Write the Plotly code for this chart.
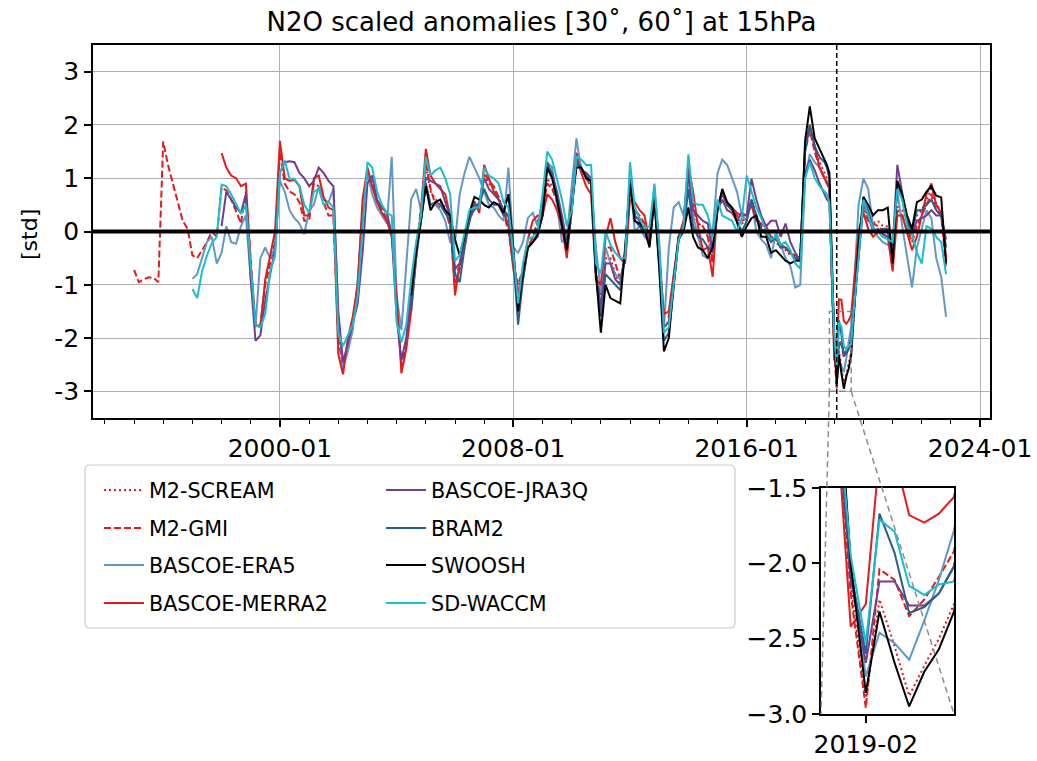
"""
Anomalias escaladas de N2O em 15 hPa (30-60N), com zoom no evento de 2019.
"""
import pandas as pd
import plotly.graph_objects as go

W, H = 1037, 761

# Eixo de tempo: bimensal até set/2018, mensal na janela do zoom, bimensal depois
dates_all = (list(pd.date_range('1995-01-01', '2018-09-01', freq='2MS'))
             + list(pd.date_range('2018-10-01', '2019-09-01', freq='MS'))
             + list(pd.date_range('2019-11-01', '2022-11-01', freq='2MS')))

# ---- séries (valores em desvios-padrão) ----
m2_scream_start = '2004-09-01'
m2_scream = [
    -0.50, 0.40,
    1.20, 0.75, 0.60, 0.55, 0.45, 0.15,
    -0.80, -0.65, -0.20, 0.30, 0.55, 0.50,
    1.05, 0.90, 0.80, 0.65, 0.35, 0.10,
    -0.60, -1.15, -0.75, -0.30, -0.10, 0.10,
    0.40, 1.00, 0.85, 0.55, 0.10, -0.40,
    0.40, 1.50, 1.20, 1.00, 0.90, -0.90,
    -1.50, -0.50, -0.50, -0.80, -1.00, -0.50,
    0.80, 0.35, 0.25, 0.10, -0.25, 0.65,
    -0.55, -1.75, -1.70, -0.95, -0.10, 0.10,
    1.10, 0.40, 0.15, 0.10, -0.10, -0.50,
    0.50, 0.75, 0.50, 0.40, 0.25, 0.15,
    0.20, 0.60, 0.30, 0.10, 0.00, -0.15,
    -0.20, -0.30, -0.35, -0.45, -0.50, -0.55,
    1.60, 2.00, 1.60, 1.30, 1.10,
    1.00, 0.90, -0.70, -2.15, -2.91, -2.24, -2.55, -2.88, -2.68, -2.50, -2.27, -1.60,
    -0.30, 0.55, 0.25, 0.15, 0.20, 0.10, 0.10, -0.55, 0.50, 0.40, 0.20, -0.10,
    0.30, 0.40, 0.60, 0.80, 0.50, 0.40, -0.50,
]

m2_gmi_start = '1995-01-01'
m2_gmi = [
    -0.72, -0.95, -0.90, -0.86, -0.87, -0.95,
    1.69, 1.25, 0.90, 0.55, 0.20, 0.05,
    -0.45, -0.50, -0.35, -0.20, 0.00, -0.10,
    0.83, 0.77, 0.60, 0.36, 0.15, 0.75,
    -0.60, -1.80, -1.75, -1.00, -0.60, -0.20,
    1.50, 0.90, 0.75, 0.70, 0.55, 0.20,
    0.20, 0.90, 0.85, 0.55, 0.30, 0.30,
    -2.00, -2.55, -2.10, -1.70, -1.00, 0.40,
    1.10, 0.90, 0.55, 0.40, 0.25, 0.00,
    -1.30, -2.50, -2.15, -1.30, -0.40, 0.40,
    1.30, 0.80, 0.50, 0.45, 0.40, 0.10,
    -1.00, -0.70, -0.30, 0.20, 0.45, 0.45,
    1.10, 0.95, 0.85, 0.65, 0.35, 0.00,
    -0.60, -1.00, -0.70, -0.30, -0.10, 0.20,
    0.40, 0.90, 0.80, 0.55, 0.10, -0.40,
    0.40, 1.45, 1.20, 1.00, 0.85, -0.80,
    -1.20, -0.30, -0.30, -0.60, -0.90, -0.50,
    0.80, 0.40, 0.30, 0.15, -0.20, 0.70,
    -0.50, -1.60, -1.60, -0.90, -0.10, 0.10,
    1.15, 0.45, 0.15, 0.10, -0.10, -0.60,
    0.50, 0.70, 0.50, 0.40, 0.30, 0.20,
    0.25, 0.60, 0.25, 0.10, 0.00, -0.10,
    -0.15, -0.30, -0.30, -0.40, -0.45, -0.50,
    1.50, 1.90, 1.50, 1.20, 1.00,
    0.90, 0.80, -0.90, -2.20, -2.96, -2.04, -2.11, -2.35, -2.24, -2.09, -1.92, -1.30,
    -0.10, 0.40, 0.20, 0.15, 0.10, 0.00, 0.00, -0.50, 0.40, 0.30, 0.05, -0.20,
    0.10, 0.30, 0.50, 0.70, 0.40, 0.30, -0.70,
]

era5_start = '1997-01-01'
era5 = [
    -0.89, -0.80, -0.50, -0.20, -0.10, -0.60,
    -0.40, 0.10, -0.20, -0.23, 0.10, 0.30,
    -0.90, -1.80, -0.50, -0.30, -0.50, -0.30,
    0.95, 0.75, 0.40, 0.25, 0.15, -0.05,
    0.40, 0.50, 0.85, 0.60, 0.55, 0.80,
    -1.60, -2.55, -2.25, -1.85, -0.90, 0.30,
    1.10, 0.70, 0.45, 0.30, 0.15, 1.40,
    -1.20, -1.85, -0.60, 0.60, 0.80, 0.40,
    0.90, 0.50, 0.50, 0.40, 0.20, -0.20,
    -0.20, 0.70, 1.10, 1.40, 1.20, 1.00,
    0.75, 0.50, 0.45, 0.30, 0.20, 1.20,
    -0.30, -0.40, -0.20, 0.25, 0.35, 0.10,
    0.60, 1.30, 1.20, 0.50, -0.20, -0.10,
    0.80, 1.75, 1.15, 1.10, 0.90, -0.30,
    -1.15, -0.30, -0.60, -0.80, -0.90, -0.50,
    1.00, 0.00, 0.10, -0.10, -0.20, 0.90,
    -0.20, -1.80, -0.30, 0.45, 0.55, 0.30,
    1.00, 0.30, -0.10, -0.45, -0.50, 0.00,
    1.10, 1.35, 1.25, 1.00, 0.75, 0.30,
    0.20, 0.60, 0.00, -0.15, -0.25, -0.50,
    0.00, -0.25, -0.50, -0.65, -1.05, -1.00,
    1.00, 1.45, 1.30, 1.20, 1.00,
    0.95, 0.90, -0.60, -2.00, -2.75, -2.46, -2.53, -2.64, -2.38, -2.11, -1.78, -1.20,
    0.50, 0.99, 0.80, 0.10, -0.10, -0.20, -0.25, -0.20, 0.75, 0.10, -0.50, -1.05,
    -0.30, 0.05, 0.40, 0.25, -0.50, -0.85, -1.60,
]

merra2_start = '1998-01-01'
merra2 = [
    1.47, 1.20, 1.05, 1.00, 0.85, 0.90,
    -0.60, -1.75, -1.80, -0.90, -0.45, 0.00,
    1.70, 1.00, 0.95, 0.97, 0.85, 0.30,
    0.30, 1.00, 1.05, 0.65, 0.45, 0.40,
    -2.30, -2.68, -2.00, -1.60, -1.00, 0.60,
    1.20, 0.85, 0.55, 0.35, 0.20, -0.10,
    -1.20, -2.66, -2.20, -1.50, -0.50, 0.40,
    1.55, 1.05, 0.90, 0.80, 0.70, 0.30,
    -1.20, -0.60, -0.20, 0.30, 0.55, 0.35,
    1.25, 1.00, 0.75, 0.60, 0.40, 0.10,
    -0.70, -1.20, -0.70, -0.15, 0.20, 0.30,
    0.30, 0.70, 0.60, 0.40, 0.10, -0.50,
    0.40, 1.40, 1.10, 0.85, 0.70, -0.90,
    -1.00, -0.10, 0.25, -0.20, -0.50, -0.60,
    0.60, 0.55, 0.40, 0.30, -0.20, 0.70,
    -0.50, -1.55, -1.50, -0.80, -0.10, 0.20,
    1.25, 0.75, 0.10, -0.35, -0.30, -0.85,
    0.50, 0.70, 0.50, 0.45, 0.35, 0.30,
    0.30, 0.50, 0.20, 0.15, 0.10, -0.10,
    -0.15, -0.25, -0.30, -0.40, -0.50, -0.50,
    1.60, 2.00, 1.60, 1.20, 1.00,
    0.90, 0.85, -0.94, -2.42, -2.27, -1.27, -1.28, -1.68, -1.73, -1.67, -1.56, -1.00,
    0.00, 0.35, 0.05, -0.10, 0.00, -0.05, -0.10, -0.75, 0.30, 0.30, 0.00, -0.35,
    -0.10, 0.30, 0.70, 0.90, 0.50, 0.35, -0.55,
]

jra3q_start = '1998-01-01'
jra3q = [
    0.10, 0.75, 0.60, 0.45, 0.35, 0.70,
    -0.90, -2.05, -1.95, -1.30, -0.80, -0.35,
    1.10, 1.30, 1.32, 1.30, 1.10, 1.00,
    0.85, 0.95, 1.20, 1.10, 0.95, 0.85,
    -1.50, -2.45, -2.10, -1.75, -1.35, -0.40,
    0.90, 1.05, 0.60, 0.45, 0.35, -0.05,
    -1.60, -2.42, -2.00, -1.10, -0.30, 0.30,
    1.00, 0.95, 0.90, 0.85, 0.55, 0.30,
    -0.70, -0.60, -0.10, 0.30, 0.40, 0.55,
    1.00, 0.80, 0.70, 0.60, 0.40, 0.30,
    -0.50, -1.30, -0.90, -0.30, -0.20, -0.10,
    0.40, 1.25, 1.10, 0.75, 0.30, -0.20,
    0.40, 1.30, 1.15, 1.10, 1.00, -0.80,
    -1.40, -0.60, -0.60, -0.90, -1.00, -0.40,
    1.00, 0.30, 0.20, 0.00, -0.10, 0.60,
    -0.40, -1.80, -1.70, -0.90, -0.15, 0.00,
    1.10, 0.40, 0.30, 0.20, 0.15, -0.40,
    0.40, 0.60, 0.40, 0.35, 0.20, 0.35,
    0.30, 0.99, 0.60, 0.30, 0.10, 0.20,
    0.20, -0.10, 0.15, -0.20, -0.40, -0.55,
    1.10, 1.35, 1.15, 0.90, 0.70,
    0.60, 0.55, -0.90, -2.10, -2.66, -2.12, -2.12, -2.28, -2.28, -2.20, -2.02, -1.50,
    -0.40, 0.50, 0.30, 0.00, 0.05, -0.05, -0.10, -0.30, 1.25, 0.70, 0.20, -0.05,
    0.20, 0.25, 0.30, 0.40, 0.30, 0.30, -0.15,
]

bram2_start = '2004-07-01'
bram2 = [
    -1.50, -0.50, 0.20,
    0.90, 0.50, 0.55, 0.50, 0.35, 0.20,
    -0.80, -0.95, -0.30, 0.20, 0.50, 0.50,
    0.80, 0.60, 0.50, 0.50, 0.30, 0.30,
    -0.50, -1.75, -0.90, -0.30, -0.20, -0.05,
    0.30, 1.30, 1.05, 0.65, 0.10, -0.25,
    0.40, 1.30, 1.20, 1.05, 0.95, -0.80,
    -1.60, -0.80, -0.90, -1.00, -1.10, -0.40,
    1.00, 0.20, 0.10, 0.00, -0.25, 0.65,
    -0.60, -2.05, -1.90, -1.00, -0.15, 0.00,
    0.80, 0.10, -0.10, -0.15, -0.30, -0.35,
    0.45, 0.75, 0.50, 0.40, 0.20, 0.00,
    0.20, 0.60, 0.30, 0.05, -0.05, -0.20,
    -0.10, -0.30, -0.30, -0.40, -0.50, -0.55,
    1.50, 2.00, 1.60, 1.40, 1.30,
    1.20, 1.00, -0.80, -2.05, -2.60, -1.67, -1.93, -2.33, -2.29, -2.20, -2.02, -1.50,
    -0.40, 0.60, 0.40, 0.05, 0.00, 0.05, 0.05, -0.50, 0.90, 0.60, 0.20, 0.00,
    0.40, 0.40, 0.50, 0.60, 0.40, 0.30, -0.30,
]

swoosh_start = '2004-07-01'
swoosh = [
    -1.20, -0.40, 0.20,
    0.85, 0.40, 0.55, 0.60, 0.40, 0.30,
    -0.15, -0.45, -0.10, 0.35, 0.65, 0.60,
    0.50, 0.45, 0.55, 0.50, 0.35, 0.70,
    -0.30, -1.50, -0.80, -0.30, -0.20, -0.05,
    0.30, 1.20, 1.00, 0.60, 0.10, -0.35,
    0.50, 1.20, 1.20, 1.00, 0.95, -0.80,
    -1.90, -1.00, -1.25, -1.30, -1.35, -0.30,
    0.90, 0.20, 0.15, 0.05, -0.30, 0.60,
    -0.70, -2.25, -2.00, -1.00, -0.10, 0.00,
    0.45, -0.10, -0.30, -0.35, -0.50, -0.30,
    0.40, 0.80, 0.55, 0.45, 0.15, -0.10,
    0.10, 0.25, 0.30, -0.10, -0.10, -0.40,
    -0.35, -0.45, -0.55, -0.60, -0.55, -0.55,
    1.70, 2.35, 1.75, 1.55, 1.35,
    1.25, 1.10, -0.50, -2.00, -2.86, -2.32, -2.66, -2.95, -2.72, -2.57, -2.32, -1.60,
    -0.25, 0.65, 0.50, 0.30, 0.40, 0.40, 0.45, -0.60, 0.95, 0.70, 0.30, 0.05,
    0.55, 0.60, 0.75, 0.85, 0.67, 0.64, -0.60,
]

waccm_start = '1997-01-01'
waccm = [
    -1.08, -1.25, -0.75, -0.45, -0.22, -0.10,
    0.88, 0.85, 0.70, 0.50, 0.33, 0.50,
    -0.70, -1.75, -1.80, -1.55, -0.75, -0.45,
    1.10, 1.33, 0.99, 0.99, 0.86, 0.50,
    0.35, 0.75, 0.80, 0.50, 0.55, 0.45,
    -1.90, -2.15, -1.95, -1.75, -1.20, 0.10,
    1.30, 1.20, 0.75, 0.50, 0.35, 0.30,
    -1.70, -2.08, -1.75, -0.90, -0.20, 0.30,
    1.40, 1.05, 1.15, 1.20, 1.00, 0.70,
    -0.55, -0.45, 0.00, 0.40, 0.45, 0.45,
    1.20, 1.05, 1.00, 0.90, 0.55, 0.45,
    -0.40, -1.35, -0.60, -0.15, -0.10, 0.00,
    0.70, 1.50, 1.35, 0.95, 0.60, 0.10,
    0.40, 1.40, 1.35, 1.25, 1.25, -0.60,
    -0.80, 0.00, -0.25, -0.40, -0.50, -0.50,
    1.30, 0.45, 0.25, 0.05, 0.10, 0.85,
    -0.30, -1.90, -1.80, -0.95, -0.15, 0.10,
    1.45, 0.55, 0.50, 0.50, 0.30, -0.10,
    0.60, 0.30, 0.25, 0.20, 0.00, 0.25,
    1.05, 0.75, 0.45, 0.25, 0.00, -0.15,
    -0.10, -0.25, -0.20, -0.35, -0.60, -0.70,
    1.00, 1.30, 1.00, 0.85, 0.75,
    0.70, 0.55, -0.80, -1.95, -2.53, -1.71, -1.79, -2.15, -2.21, -2.14, -2.12, -1.50,
    -0.50, 0.60, 0.30, 0.05, 0.00, -0.10, -0.15, -0.20, 0.80, 0.60, 0.10, -0.05,
    -0.40, -0.60, 0.10, 0.05, -0.10, -0.20, -0.80,
]

# nome, início, valores, cor, traço, coluna e linha na legenda
series = [
    ('M2-SCREAM', m2_scream_start, m2_scream, '#e41a1c', '2px,3px', 0, 0),
    ('M2-GMI', m2_gmi_start, m2_gmi, '#e41a1c', '7px,3px', 0, 1),
    ('BASCOE-ERA5', era5_start, era5, '#6397c7', 'solid', 0, 2),
    ('BASCOE-MERRA2', merra2_start, merra2, '#e41a1c', 'solid', 0, 3),
    ('BASCOE-JRA3Q', jra3q_start, jra3q, '#713d8c', 'solid', 1, 0),
    ('BRAM2', bram2_start, bram2, '#2b5e8c', 'solid', 1, 1),
    ('SWOOSH', swoosh_start, swoosh, '#000000', 'solid', 1, 2),
    ('SD-WACCM', waccm_start, waccm, '#17becf', 'solid', 1, 3),
]

FONT = 'DejaVu Sans'

# posições (pixels) convertidas para coordenadas do papel
def px(x):
    return x / W

def py(y):
    return 1 - y / H

main_x = [px(93), px(990)]
main_y = [py(418), py(45)]
ins_x = [px(821), px(954)]
ins_y = [py(714), py(488)]
x_lo, x_hi = pd.Timestamp('1993-08-05'), pd.Timestamp('2024-05-04')
y_lo, y_hi = -3.5, 3.5
zoom_x = ['2018-11-01', '2019-08-01']
zoom_y = [-3.0, -1.5]

fig = go.Figure()

for k, (name, start, vals, color, dash, col, row) in enumerate(series):
    i0 = dates_all.index(pd.Timestamp(start))
    d = dates_all[i0:i0 + len(vals)]
    leg = 'legend' if k == 0 else f'legend{k + 1}'
    fig.add_trace(go.Scatter(x=d, y=vals, mode='lines', name=name,
                             line=dict(color=color, width=2, dash=dash),
                             legend=leg, xaxis='x', yaxis='y'))
    fig.add_trace(go.Scatter(x=d, y=vals, mode='lines', name=name,
                             line=dict(color=color, width=2, dash=dash),
                             showlegend=False, xaxis='x2', yaxis='y2'))
    fig.update_layout(**{leg: dict(
        x=px(99 if col == 0 else 381), y=py([490, 528, 565, 603][row]),
        xanchor='left', yanchor='middle', bgcolor='rgba(0,0,0,0)',
        font=dict(family=FONT, size=20.7, color='black'), itemwidth=40)})

axis_common = dict(showline=True, mirror=True, linecolor='black', linewidth=1.5,
                   ticks='outside', tickcolor='black', tickwidth=1.5, ticklen=7,
                   zeroline=False, automargin=False,
                   tickfont=dict(family=FONT, size=25, color='black'))

fig.update_layout(
    width=W, height=H,
    margin=dict(l=0, r=0, t=0, b=0, autoexpand=False),
    paper_bgcolor='white', plot_bgcolor='white',
    title=dict(text='N2O scaled anomalies [30˚, 60˚] at 15hPa',
               x=(main_x[0] + main_x[1]) / 2, xanchor='center', xref='paper',
               y=py(22), yanchor='middle', yref='paper',
               font=dict(family=FONT, size=26, color='black')),
    xaxis=dict(domain=main_x, anchor='y', type='date',
               range=[x_lo, x_hi], tickmode='linear', tick0='2000-01-01', dtick='M96',
               tickformat='%Y-%m', showgrid=True, gridcolor='#b0b0b0', gridwidth=1,
               minor=dict(ticks='outside', ticklen=4, tickcolor='black', tickwidth=1,
                          dtick='M12', tick0='1994-01-01', showgrid=False),
               **axis_common),
    yaxis=dict(domain=main_y, anchor='x', range=[y_lo, y_hi],
               tickvals=[-3, -2, -1, 0, 1, 2, 3],
               ticktext=['-3', '-2', '-1', '0', '1', '2', '3'],
               showgrid=True, gridcolor='#b0b0b0', gridwidth=1, **axis_common),
    xaxis2=dict(domain=ins_x, anchor='y2', type='date', range=zoom_x,
                tickvals=['2019-02-01'], ticktext=['2019-02'], showgrid=False,
                **axis_common),
    yaxis2=dict(domain=ins_y, anchor='x2', range=zoom_y,
                tickvals=[-3, -2.5, -2, -1.5],
                ticktext=['−3.0', '−2.5', '−2.0', '−1.5'], showgrid=False,
                **axis_common),
    showlegend=True,
)

# rótulo do eixo y
fig.add_annotation(text='[std]', x=px(30), y=py(235), xref='paper', yref='paper',
                   xanchor='center', yanchor='middle', showarrow=False, textangle=-90,
                   font=dict(family=FONT, size=22, color='black'))

# linha do zero e linha vertical do evento
fig.add_shape(type='line', xref='x domain', yref='y', x0=0, x1=1, y0=0, y1=0,
              line=dict(color='black', width=4))
fig.add_shape(type='line', xref='x', yref='y domain', x0='2019-02-01', x1='2019-02-01',
              y0=0, y1=1, line=dict(color='black', width=1.5, dash='5px,3px'))

# retângulo indicando a região do zoom
grey = 'rgba(128,128,128,0.9)'
fig.add_shape(type='rect', xref='x', yref='y', x0=zoom_x[0], x1=zoom_x[1],
              y0=zoom_y[0], y1=zoom_y[1], line=dict(color=grey, width=1.5, dash='6px,4px'))


def main_to_paper(t, v):
    fx = (pd.Timestamp(t) - x_lo) / (x_hi - x_lo)
    fy = (v - y_lo) / (y_hi - y_lo)
    return main_x[0] + fx * (main_x[1] - main_x[0]), main_y[0] + fy * (main_y[1] - main_y[0])


for t, ix in [(zoom_x[0], ins_x[0]), (zoom_x[1], ins_x[1])]:
    x0, y0 = main_to_paper(t, zoom_y[0])
    fig.add_shape(type='line', xref='paper', yref='paper', x0=x0, y0=y0, x1=ix, y1=ins_y[0],
                  line=dict(color=grey, width=1.5, dash='6px,4px'))

# caixa da legenda (cantos arredondados)
bx0, by0, bx1, by1, r = 85, 465, 735, 628, 5
pts = [('M', bx0 + r, by0), ('L', bx1 - r, by0), ('Q', bx1, by0, bx1, by0 + r),
       ('L', bx1, by1 - r), ('Q', bx1, by1, bx1 - r, by1), ('L', bx0 + r, by1),
       ('Q', bx0, by1, bx0, by1 - r), ('L', bx0, by0 + r), ('Q', bx0, by0, bx0 + r, by0)]
path = ''
for p in pts:
    coords = p[1:]
    xy = ' '.join(f'{px(coords[i]):.5f},{py(coords[i + 1]):.5f}' for i in range(0, len(coords), 2))
    path += f'{p[0]} {xy} '
fig.add_shape(type='path', xref='paper', yref='paper', path=path + 'Z',
              fillcolor='rgba(255,255,255,0.8)', line=dict(color='#cccccc', width=1.2))

# sem margem no body da página, para a figura ocupar a janela inteira
fig.write_html("out.html", config={'displayModeBar': False},
               post_script="document.body.style.margin='0';")
